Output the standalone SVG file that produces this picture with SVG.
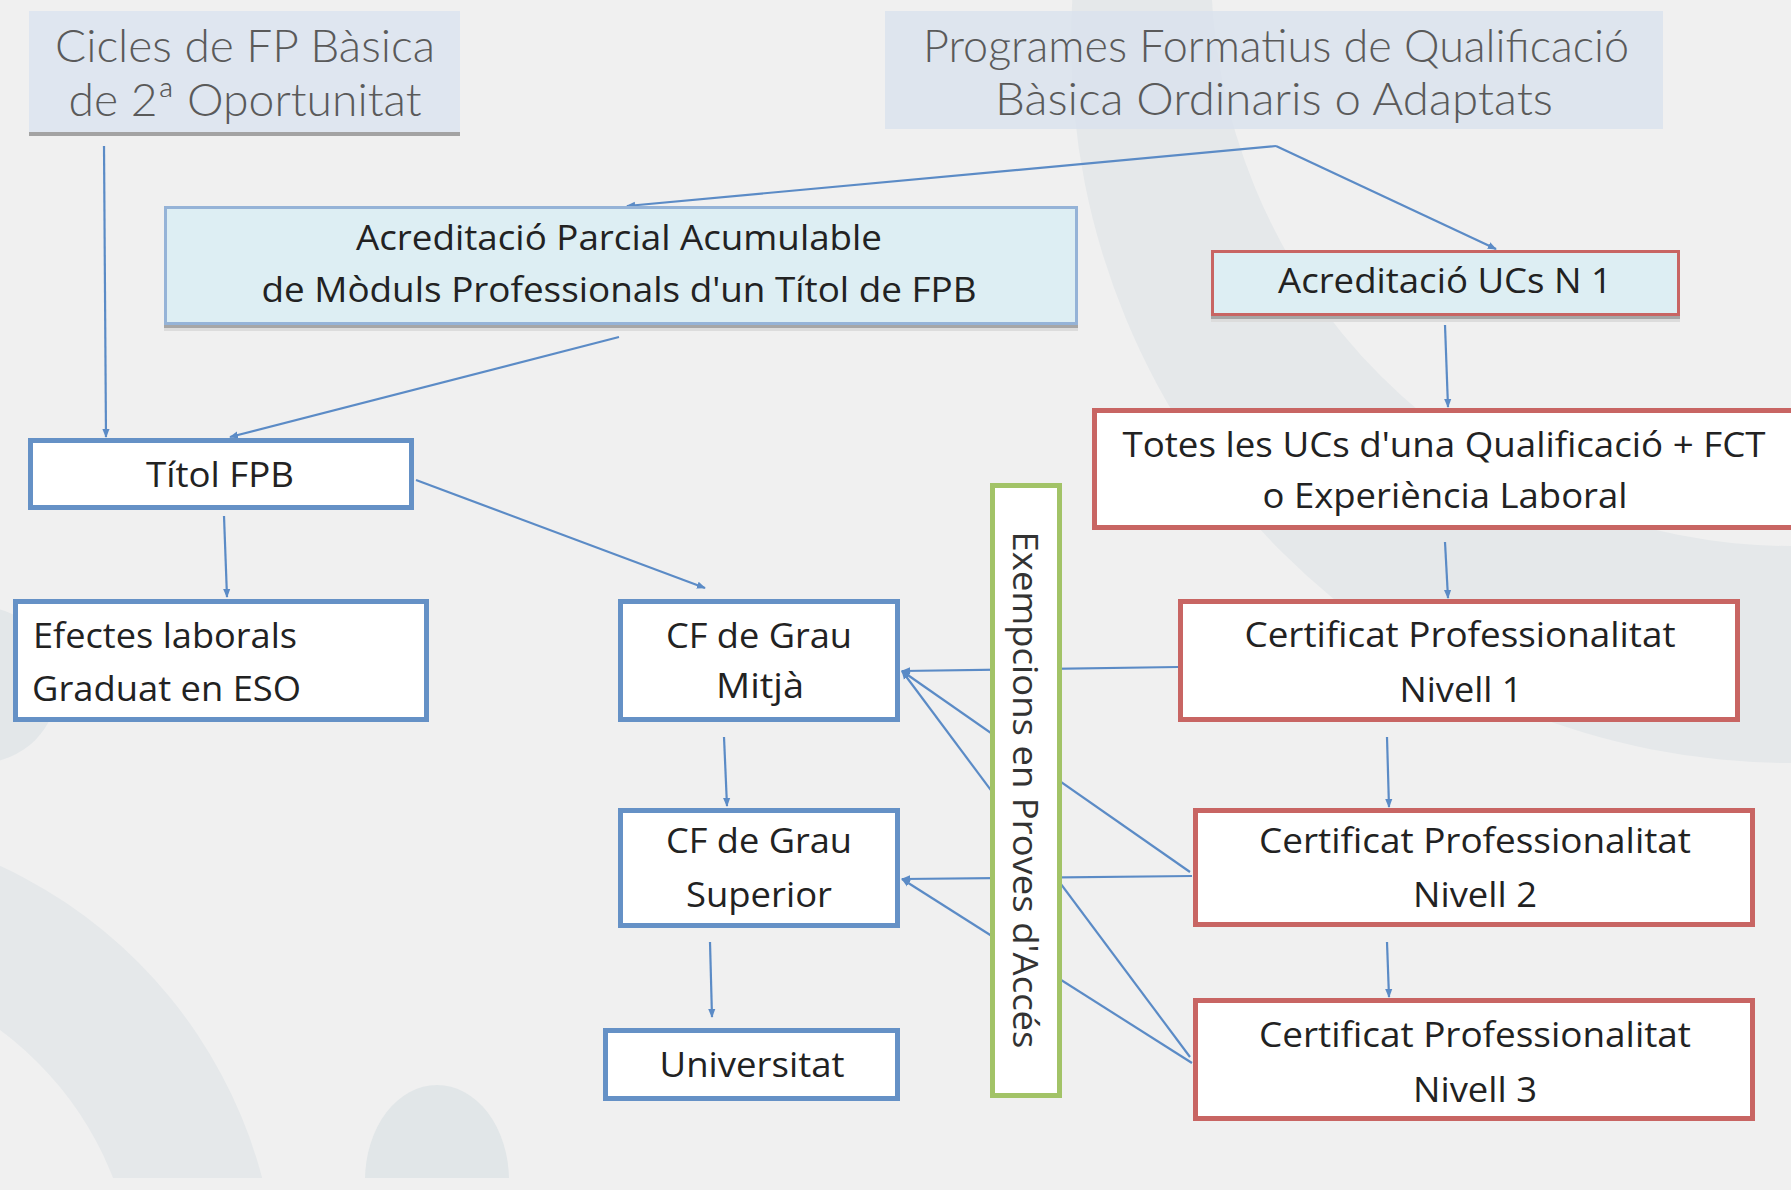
<svg xmlns="http://www.w3.org/2000/svg" width="1791" height="1190" viewBox="0 0 1791 1190">
<defs>
<style>
.light{font-family:Lato,"Open Sans","DejaVu Sans",sans-serif;font-weight:300;fill:#5a5a5a;font-size:46px;text-anchor:middle}
.t{font-family:"Open Sans","Noto Sans","Liberation Sans",sans-serif;fill:#222;font-size:35px;text-anchor:middle}
.bl{fill:#fff;stroke:#6591c6;stroke-width:5}
.rd{fill:#fff;stroke:#c86563;stroke-width:5}
.c{stroke:#5b8bc6;stroke-width:2.2;fill:none;marker-end:url(#arr)}
.cn{stroke:#5b8bc6;stroke-width:2.2;fill:none}
.bg{fill:#e5e8ea}
</style>
<marker id="arr" viewBox="0 0 10 10" refX="9" refY="5" markerWidth="9" markerHeight="9" markerUnits="userSpaceOnUse" orient="auto">
<path d="M0,1 L10,5 L0,9 z" fill="#5b8bc6"/>
</marker>
<clipPath id="clipbg"><rect x="0" y="0" width="1791" height="1178"/></clipPath>
</defs>
<rect x="0" y="0" width="1791" height="1190" fill="#f0f0f0"/>
<g id="background" clip-path="url(#clipbg)">
<path class="bg" fill-rule="evenodd" d="M1071,43 a720,720 0 1,0 1440,0 a720,720 0 1,0 -1440,0 Z M1211,-34 a580,580 0 1,0 1160,0 a580,580 0 1,0 -1160,0 Z"/>
<path class="bg" fill-rule="evenodd" d="M-678,1300 a478,478 0 1,0 956,0 a478,478 0 1,0 -956,0 Z M-536,1300 a336,336 0 1,0 672,0 a336,336 0 1,0 -672,0 Z"/>
<circle cx="-20" cy="685" r="78" fill="#e3e7e9"/>
<ellipse cx="437" cy="1180" rx="72" ry="95" fill="#e1e6e8"/>
</g>
<g id="connectors">
<line class="c" x1="104" y1="146" x2="106" y2="437"/>
<line class="c" x1="1276" y1="146" x2="627" y2="206"/>
<line class="c" x1="1276" y1="146" x2="1496" y2="249"/>
<line class="c" x1="619" y1="337" x2="230" y2="437"/>
<line class="c" x1="1445" y1="325" x2="1448" y2="407"/>
<line class="c" x1="1445" y1="542" x2="1448" y2="598"/>
<line class="c" x1="1387" y1="737" x2="1389" y2="807"/>
<line class="c" x1="1387" y1="942" x2="1389" y2="997"/>
<line class="c" x1="224" y1="516" x2="227" y2="597"/>
<line class="c" x1="416" y1="480" x2="705" y2="588"/>
<line class="c" x1="724" y1="737" x2="727" y2="806"/>
<line class="c" x1="710" y1="942" x2="712" y2="1017"/>
<line class="c" x1="1178" y1="667" x2="902" y2="671"/>
<line class="c" x1="1190" y1="872" x2="902" y2="671"/>
<line class="c" x1="1190" y1="1057" x2="902" y2="671"/>
<line class="c" x1="1192" y1="876" x2="902" y2="879"/>
<line class="c" x1="1192" y1="1063" x2="902" y2="879"/>
</g>
<g id="cicles">
<rect x="29" y="11" width="431" height="123" fill="#dfe6f0"/>
<rect x="29" y="132" width="431" height="4" fill="#a3a3a3"/>
<text class="light" x="245" y="62" textLength="380" lengthAdjust="spacingAndGlyphs">Cicles de FP Bàsica</text>
<text class="light" x="245" y="116" textLength="353" lengthAdjust="spacingAndGlyphs">de 2ª Oportunitat</text>
</g>
<g id="programes">
<rect x="885" y="11" width="778" height="118" fill="#d8e2ee" fill-opacity="0.75"/>
<text class="light" x="1276" y="62" textLength="706" lengthAdjust="spacingAndGlyphs">Programes Formatius de Qualificació</text>
<text class="light" x="1274" y="115" textLength="558" lengthAdjust="spacingAndGlyphs">Bàsica Ordinaris o Adaptats</text>
</g>
<g id="parcial">
<rect x="164" y="325" width="914" height="6" fill="#dcdcdc"/>
<rect x="164" y="325" width="914" height="3" fill="#a6a6a6"/>
<rect x="165.5" y="207.5" width="911" height="116" fill="#ddeef3" stroke="#95b3d7" stroke-width="3"/>
<text class="t" x="619" y="250" textLength="526" lengthAdjust="spacingAndGlyphs">Acreditació Parcial Acumulable</text>
<text class="t" x="619" y="302" textLength="715" lengthAdjust="spacingAndGlyphs">de Mòduls Professionals d'un Títol de FPB</text>
</g>
<g id="ucs">
<rect x="1211" y="316" width="469" height="6" fill="#dcdcdc"/>
<rect x="1211" y="316" width="469" height="3" fill="#a6a6a6"/>
<rect x="1212.5" y="251.5" width="466" height="63" fill="#ddeef3" stroke="#c86563" stroke-width="3"/>
<text class="t" x="1445" y="293" textLength="334" lengthAdjust="spacingAndGlyphs">Acreditació UCs N 1</text>
</g>
<g id="totes">
<rect class="rd" x="1094.5" y="410.5" width="700" height="117"/>
<text class="t" x="1444" y="457" textLength="643" lengthAdjust="spacingAndGlyphs">Totes les UCs d'una Qualificació + FCT</text>
<text class="t" x="1445" y="508" textLength="365" lengthAdjust="spacingAndGlyphs">o Experiència Laboral</text>
</g>
<g id="cert1">
<rect class="rd" x="1180.5" y="601.5" width="557" height="118"/>
<text class="t" x="1460" y="647" textLength="431" lengthAdjust="spacingAndGlyphs">Certificat Professionalitat</text>
<text class="t" x="1461" y="702" textLength="123" lengthAdjust="spacingAndGlyphs">Nivell 1</text>
</g>
<g id="cert2">
<rect class="rd" x="1195.5" y="810.5" width="557" height="114"/>
<text class="t" x="1475" y="853" textLength="432" lengthAdjust="spacingAndGlyphs">Certificat Professionalitat</text>
<text class="t" x="1475" y="907" textLength="124" lengthAdjust="spacingAndGlyphs">Nivell 2</text>
</g>
<g id="cert3">
<rect class="rd" x="1195.5" y="1000.5" width="557" height="118"/>
<text class="t" x="1475" y="1047" textLength="432" lengthAdjust="spacingAndGlyphs">Certificat Professionalitat</text>
<text class="t" x="1475" y="1102" textLength="124" lengthAdjust="spacingAndGlyphs">Nivell 3</text>
</g>
<g id="titol">
<rect class="bl" x="30.5" y="440.5" width="381" height="67"/>
<text class="t" x="220" y="487" textLength="148" lengthAdjust="spacingAndGlyphs">Títol FPB</text>
</g>
<g id="efectes">
<rect class="bl" x="15.5" y="601.5" width="411" height="118"/>
<text class="t" x="33" y="648" text-anchor="start" style="text-anchor:start" textLength="264" lengthAdjust="spacingAndGlyphs">Efectes laborals</text>
<text class="t" x="32" y="701" style="text-anchor:start" textLength="269" lengthAdjust="spacingAndGlyphs">Graduat en ESO</text>
</g>
<g id="mitja">
<rect class="bl" x="620.5" y="601.5" width="277" height="118"/>
<text class="t" x="759" y="648" textLength="186" lengthAdjust="spacingAndGlyphs">CF de Grau</text>
<text class="t" x="760" y="698" textLength="88" lengthAdjust="spacingAndGlyphs">Mitjà</text>
</g>
<g id="superior">
<rect class="bl" x="620.5" y="810.5" width="277" height="115"/>
<text class="t" x="759" y="853" textLength="186" lengthAdjust="spacingAndGlyphs">CF de Grau</text>
<text class="t" x="759" y="907" textLength="146" lengthAdjust="spacingAndGlyphs">Superior</text>
</g>
<g id="universitat">
<rect class="bl" x="605.5" y="1030.5" width="292" height="68"/>
<text class="t" x="752" y="1077" textLength="185" lengthAdjust="spacingAndGlyphs">Universitat</text>
</g>
<g id="exempcions">
<rect x="992.5" y="485.5" width="67" height="610" fill="#fff" stroke="#a2c367" stroke-width="5"/>
<text class="t" transform="translate(1013,790) rotate(90)" x="0" y="0" style="fill:#333;font-size:34px" textLength="517" lengthAdjust="spacingAndGlyphs">Exempcions en Proves d'Accés</text>
</g>
</svg>
